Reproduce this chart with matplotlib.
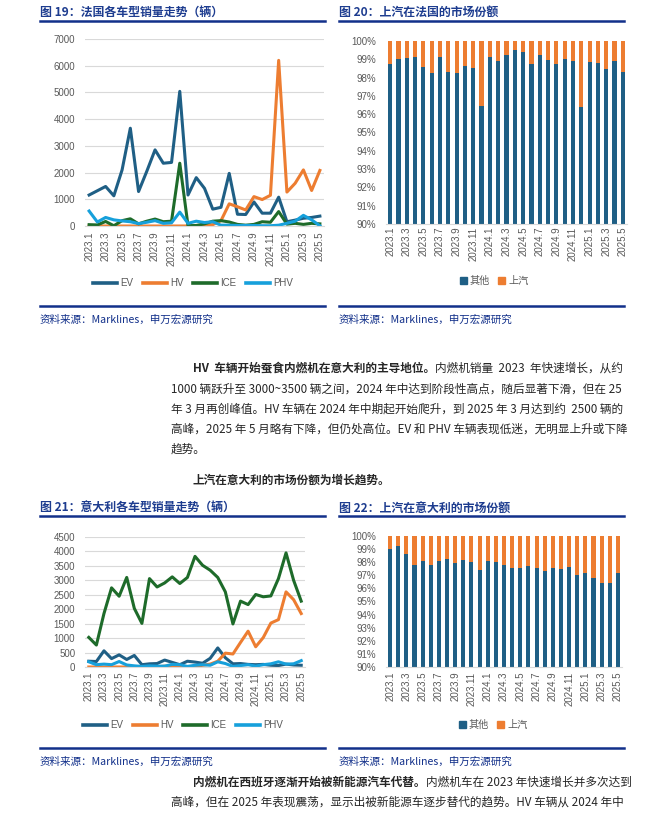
import matplotlib
matplotlib.use('Agg')
import matplotlib.pyplot as plt
import numpy as np
from matplotlib.lines import Line2D
from matplotlib.patches import Patch
from matplotlib.text import Annotation
from matplotlib.transforms import Bbox, TransformedBbox

# ---- data ----
months = [f'{y}.{m}' for y in (2023, 2024) for m in range(1, 13)] + [f'2025.{m}' for m in range(1, 6)]

# France sales by type (units)
fr_ev = [1160, 1320, 1480, 1130, 2100, 3660, 1290, 2050, 2850, 2350, 2380, 5040, 1160, 1810, 1410,
         630, 700, 1970, 440, 430, 900, 480, 480, 1080, 160, 220, 290, 320, 370]
fr_hv = [0, 0, 0, 0, 0, 0, 0, 0, 0, 0, 0, 0, 0, 0, 0,
         50, 200, 830, 720, 600, 1100, 990, 1150, 6200, 1270, 1600, 2100, 1330, 2080]
fr_ice = [50, 40, 170, 10, 200, 270, 80, 180, 260, 160, 180, 2350, 10, 20, 80,
          180, 200, 150, 60, 30, 60, 160, 140, 540, 70, 100, 60, 100, 80]
fr_phv = [560, 150, 320, 230, 190, 160, 90, 140, 200, 100, 120, 520, 100, 180, 130,
          160, 30, 30, 20, 20, 20, 10, 10, 30, 100, 180, 400, 230, 10]

# Italy sales by type (units)
it_ev = [200, 190, 560, 290, 420, 260, 400, 80, 110, 120, 240, 160, 80, 200, 170,
         130, 300, 660, 320, 110, 120, 90, 80, 90, 60, 50, 100, 70, 60]
it_hv = [0, 0, 0, 0, 0, 0, 0, 0, 0, 0, 30, 30, 30, 0, 10,
         60, 100, 200, 480, 450, 850, 1240, 700, 1020, 1520, 1640, 2600, 2330, 1850]
it_ice = [1025, 760, 1850, 2740, 2450, 3100, 2030, 1510, 3060, 2770, 2910, 3120, 2890, 3100, 3830,
          3520, 3350, 3100, 2600, 1490, 2280, 2160, 2510, 2430, 2460, 3060, 3950, 3000, 2280]
it_phv = [180, 80, 100, 80, 190, 70, 40, 20, 40, 30, 30, 90, 80, 20, 60,
          80, 60, 180, 120, 20, 50, 80, 30, 80, 110, 180, 100, 110, 220]

# market share of "others" (%), SAIC = remainder
fr_other = [98.76, 99.03, 99.09, 99.14, 98.59, 98.27, 99.12, 98.32, 98.25, 98.63, 98.54, 96.46, 99.14, 98.89, 99.25,
            99.49, 99.40, 98.76, 99.25, 98.98, 98.76, 99.01, 98.92, 96.40, 98.87, 98.81, 98.47, 98.89, 98.30]
it_other = [98.98, 99.26, 98.60, 97.76, 98.11, 97.76, 98.11, 98.21, 97.91, 98.14, 97.98, 97.37, 98.11, 97.98, 97.76,
            97.53, 97.58, 97.68, 97.58, 97.30, 97.58, 97.47, 97.60, 96.99, 97.14, 96.76, 96.43, 96.38, 97.14]

C_EV, C_HV, C_ICE, C_PHV = '#1f5f85', '#ed7d31', '#1e6b2a', '#16a0db'
NAVY = '#12308a'
TITLE = '#1d3c8f'
GRAY = '#595959'
BODY = '#262626'
CJK = ['Noto Sans CJK SC', 'DejaVu Sans']
NUM = 'Liberation Sans'
TS = 8.4

W, H = 670, 817
fig = plt.figure(figsize=(6.7, 8.17), dpi=100)


def box(x0, y0, x1, y1):
    return [x0 / W, 1 - y1 / H, (x1 - x0) / W, (y1 - y0) / H]


def fx(x):
    return x / W


def fy(y):
    return 1 - y / H


def hline(x0, x1, y, lw=1.8):
    fig.add_artist(Line2D([fx(x0), fx(x1)], [fy(y), fy(y)], transform=fig.transFigure, color=NAVY, lw=lw))


def header(x0, x1, y, title):
    fig.text(fx(x0), fy(y), title, family=CJK, fontsize=8.6, weight='bold', color=TITLE, va='center')
    hline(x0, x1, y + 8)


def source(x0, x1, y):
    hline(x0, x1, y - 14)
    fig.text(fx(x0), fy(y), '资料来源：Marklines，申万宏源研究', family=CJK, fontsize=7.6, color=NAVY, va='center')


def style_axes(ax, xpad):
    for s in ['top', 'right', 'left']:
        ax.spines[s].set_visible(False)
    ax.spines['bottom'].set_color('#d9d9d9')
    ax.tick_params(axis='both', length=0, labelsize=7, colors=GRAY)
    ax.tick_params(axis='y', pad=7)
    ax.tick_params(axis='x', pad=xpad)
    ax.set_xticks(range(0, 29, 2))
    ax.set_xticklabels(months[::2], rotation=90, family=NUM)
    for lab in ax.get_yticklabels():
        lab.set_family(NUM)


def line_chart(rect, series, ymax, ystep, xpad, legend_xy):
    ax = fig.add_axes(rect)
    x = np.arange(len(months))
    for name, vals, col in series:
        ax.plot(x, vals, color=col, lw=2.2, label=name)
    ax.set_xlim(-0.5, len(months) - 0.5)
    ax.set_ylim(0, ymax)
    ax.set_yticks(np.arange(0, ymax + 1, ystep))
    ax.grid(axis='y', color='#d9d9d9', lw=0.8)
    ax.set_axisbelow(True)
    style_axes(ax, xpad)
    handles = [Line2D([], [], color=c, lw=2.6) for _, _, c in series]
    fig.legend(handles, [n for n, _, _ in series], loc='center', bbox_to_anchor=(fx(legend_xy[0]), fy(legend_xy[1])),
               ncol=4, frameon=False, handlelength=2.5, handletextpad=0.3, columnspacing=1.0,
               prop={'family': NUM, 'size': 7}, labelcolor=GRAY)
    return ax


def share_chart(rect, other, xpad, legend_xy):
    ax = fig.add_axes(rect)
    x = np.arange(len(months))
    saic = [100 - v for v in other]
    ax.bar(x, other, width=0.5, color=C_EV)
    ax.bar(x, saic, bottom=other, width=0.5, color=C_HV)
    ax.set_xlim(-0.5, len(months) - 0.5)
    ax.set_ylim(90, 100)
    ax.set_yticks(np.arange(90, 101, 1))
    ax.set_yticklabels([f'{v}%' for v in range(90, 101)])
    style_axes(ax, xpad)
    handles = [Patch(color=C_EV), Patch(color=C_HV)]
    fig.legend(handles, ['其他', '上汽'], loc='center', bbox_to_anchor=(fx(legend_xy[0]), fy(legend_xy[1])),
               ncol=2, frameon=False, handlelength=0.7, handleheight=0.7, handletextpad=0.3, columnspacing=0.8,
               prop={'family': CJK, 'size': 7.3}, labelcolor=GRAY)
    return ax


def simple(x, y, txt, bold=False):
    fig.text(fx(x), fy(y), txt, family=CJK, fontsize=TS, color=BODY,
             weight='bold' if bold else 'normal', va='center')


def two_part(x, y, a, b):
    # bold lead sentence followed by normal text on the same line
    t1 = fig.text(fx(x), fy(y), a, family=CJK, fontsize=TS, color=BODY, weight='bold', va='center')
    fig.add_artist(Annotation(b, xy=(1, 0.5), xycoords=t1, va='center', ha='left',
                              family=CJK, fontsize=TS, color=BODY))


# ---- top row ----
header(40, 325, 12.5, '图 19：法国各车型销量走势（辆）')
header(339, 624, 12.5, '图 20：上汽在法国的市场份额')

line_chart(box(85, 39, 324, 226),
           [('EV', fr_ev, C_EV), ('HV', fr_hv, C_HV), ('ICE', fr_ice, C_ICE), ('PHV', fr_phv, C_PHV)],
           7000, 1000, 4, (193, 283))
ax20 = share_chart(box(386, 41, 627, 224), fr_other, 2, (494, 281))
# the original chart area cuts off the last month label
clip = TransformedBbox(Bbox.from_extents(0, 0, 625 / W, 1), fig.transFigure)
for lab in ax20.get_xticklabels():
    lab.set_clip_box(clip)
    lab.set_clip_on(True)

source(40, 325, 320)
source(339, 624, 320)

# ---- middle text ----
two_part(193, 368, 'HV  车辆开始蚕食内燃机在意大利的主导地位。', '内燃机销量  2023  年快速增长，从约')
simple(171, 389, '1000 辆跃升至 3000~3500 辆之间，2024 年中达到阶段性高点，随后显著下滑，但在 25')
simple(171, 409, '年 3 月再创峰值。HV 车辆在 2024 年中期起开始爬升，到 2025 年 3 月达到约  2500 辆的')
simple(171, 429, '高峰，2025 年 5 月略有下降，但仍处高位。EV 和 PHV 车辆表现低迷，无明显上升或下降')
simple(171, 449, '趋势。')
simple(193, 480, '上汽在意大利的市场份额为增长趋势。', bold=True)

# ---- bottom row ----
header(40, 325, 508, '图 21：意大利各车型销量走势（辆）')
header(339, 624, 508, '图 22：上汽在意大利的市场份额')

line_chart(box(85, 537, 305, 667),
           [('EV', it_ev, C_EV), ('HV', it_hv, C_HV), ('ICE', it_ice, C_ICE), ('PHV', it_phv, C_PHV)],
           4500, 500, 3.5, (183, 725))
share_chart(box(386, 536, 622, 667), it_other, 3.5, (493, 725))

source(40, 325, 762)
source(339, 624, 762)

two_part(193, 782, '内燃机在西班牙逐渐开始被新能源汽车代替。', '内燃机车在 2023 年快速增长并多次达到')
simple(171, 802, '高峰，但在 2025 年表现震荡，显示出被新能源车逐步替代的趋势。HV 车辆从 2024 年中')

fig.savefig('out.png', dpi=100)
